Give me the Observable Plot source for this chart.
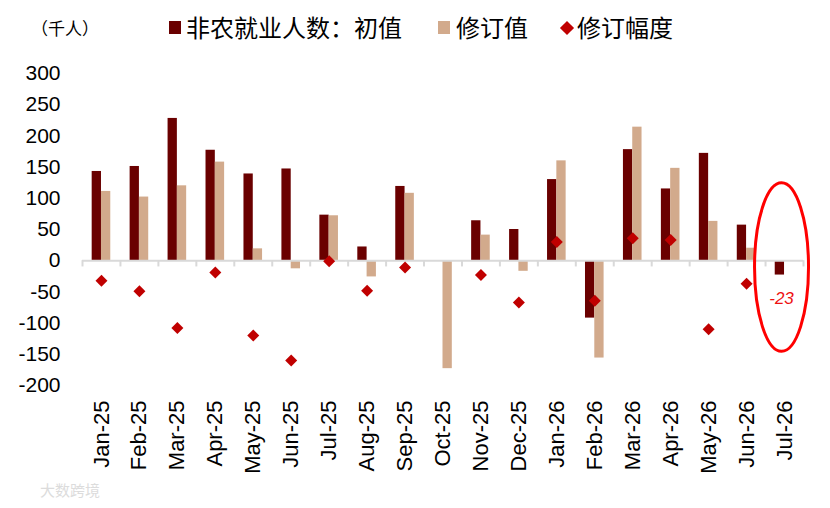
<!DOCTYPE html>
<html>
<head>
<meta charset="utf-8">
<script src="https://cdn.jsdelivr.net/npm/d3@7"></script>
<script src="https://cdn.jsdelivr.net/npm/@observablehq/plot@0.6"></script>
<style>
  body { margin: 0; background: #fff; }
  #wrap { position: relative; width: 830px; height: 508px; overflow: hidden; font-family: "Liberation Sans", Arial, sans-serif; }
  #wrap svg { position: absolute; left: 0; top: 0; }
  .lg { position: absolute; font-family: "Noto Sans CJK SC", sans-serif; color: #000; white-space: nowrap; line-height: 1; }
  .sw { position: absolute; }
</style>
</head>
<body>
<div id="wrap"></div>
<script>
const months = ["Jan-25","Feb-25","Mar-25","Apr-25","May-25","Jun-25","Jul-25","Aug-25","Sep-25","Oct-25","Nov-25","Dec-25","Jan-26","Feb-26","Mar-26","Apr-26","May-26","Jun-26","Jul-26"];
const initial  = [143, 151, 228, 177, 139, 147, 73, 22, 119, null, 64, 50, 130, -92, 178, 115, 172, 57, -23];
const revised  = [111, 102, 120, 158, 19, -13, 72, -26, 108, -173, 41, -17, 160, -156, 214, 148, 63, 20, null];
const revision = [-32, -49, -108, -19, -120, -160, -1, -48, -11, null, -23, -67, 30, -64, 36, 33, -110, -37, null];
const yTicks = [300, 250, 200, 150, 100, 50, 0, -50, -100, -150, -200];
const legendLabels = ["非农就业人数：初值", "修订值", "修订幅度"];
const unitLabel = "（千人）";
const noteLabel = "-23";

const colInit = "#6a0000", colRev = "#d2aa8c", colDiff = "#c00000";

const data = months.map((m, i) => ({m, init: initial[i], rev: revised[i], diff: revision[i]}));

const W = 830, H = 508, mL = 82, mR = 27, mT = 73, mB = 123;
const bw = (W - mL - mR) / months.length;

const plot = Plot.plot({
  width: W, height: H,
  marginLeft: mL, marginRight: mR, marginTop: mT, marginBottom: mB,
  style: {fontFamily: "'Liberation Sans', Arial, sans-serif", background: "transparent", color: "#000"},
  x: {type: "band", domain: months, padding: 0, round: false},
  y: {domain: [-200, 300], nice: false},
  marks: [
    Plot.axisY({ticks: yTicks, tickSize: 0, tickPadding: 22, fontSize: 21, label: null, tickFormat: d => String(d)}),
    Plot.axisX({tickSize: 0, tickPadding: 15, tickRotate: -90, fontSize: 22, label: null}),
    Plot.barY(data.filter(d => d.init != null), {x: "m", y: "init", fill: colInit, insetLeft: bw/2 - 9.3, insetRight: bw/2}),
    Plot.barY(data.filter(d => d.rev != null), {x: "m", y: "rev", fill: colRev, insetLeft: bw/2, insetRight: bw/2 - 9.3}),
    Plot.ruleY([0], {stroke: "#d9d9d9", strokeWidth: 2}),
    Plot.ruleX(months, {x: d => d, y1: 0, y2: -10, dx: -bw/2, stroke: "#d9d9d9", strokeWidth: 2}),
    Plot.ruleX([months[months.length - 1]], {x: d => d, y1: 0, y2: -10, dx: bw/2, stroke: "#d9d9d9", strokeWidth: 2}),
    Plot.dot(data.filter(d => d.diff != null), {x: "m", y: "diff", symbol: "diamond2", r: 5.4, fill: colDiff, stroke: null}),
    Plot.text([noteLabel], {x: () => months[months.length - 1], y: () => -23, dy: 23, dx: -3, text: d => d, fill: "#ee1111", fontSize: 17, fontStyle: "italic", fontFamily: "'Liberation Sans', Arial, sans-serif"})
  ]
});

// Annotation ellipse, placed with the plot's own scales
const xs = plot.scale("x"), ys = plot.scale("y");
const cx = xs.apply(months[months.length - 1]) + xs.bandwidth / 2 - 2.5;
const cy = ys.apply(-11);
d3.select(plot).append("ellipse")
  .attr("cx", cx).attr("cy", cy)
  .attr("rx", 27).attr("ry", Math.abs(ys.apply(-11) - ys.apply(124)))
  .attr("fill", "none").attr("stroke", "#ff0000").attr("stroke-width", 3);

const wrap = document.getElementById("wrap");
wrap.appendChild(plot);

function addText(txt, left, top, size, color) {
  const s = document.createElement("div");
  s.className = "lg"; s.textContent = txt;
  s.style.left = left + "px"; s.style.top = top + "px"; s.style.fontSize = size + "px";
  if (color) s.style.color = color;
  wrap.appendChild(s);
  return s;
}
function addSwatch(left, top, w, h, color, rot) {
  const s = document.createElement("div");
  s.className = "sw";
  s.style.left = left + "px"; s.style.top = top + "px";
  s.style.width = w + "px"; s.style.height = h + "px"; s.style.background = color;
  if (rot) s.style.transform = "rotate(45deg)";
  wrap.appendChild(s);
}
addText(unitLabel, 31, 19, 17);
addSwatch(169, 21, 12, 13, colInit);
addText(legendLabels[0], 186, 15, 24);
addSwatch(438, 21, 12, 13, colRev);
addText(legendLabels[1], 456, 15, 24);
addSwatch(562, 23, 10, 10, colDiff, true);
addText(legendLabels[2], 577, 15, 24);
addText("大数跨境", 40, 482, 15, "#dcdcdc");
</script>
</body>
</html>
